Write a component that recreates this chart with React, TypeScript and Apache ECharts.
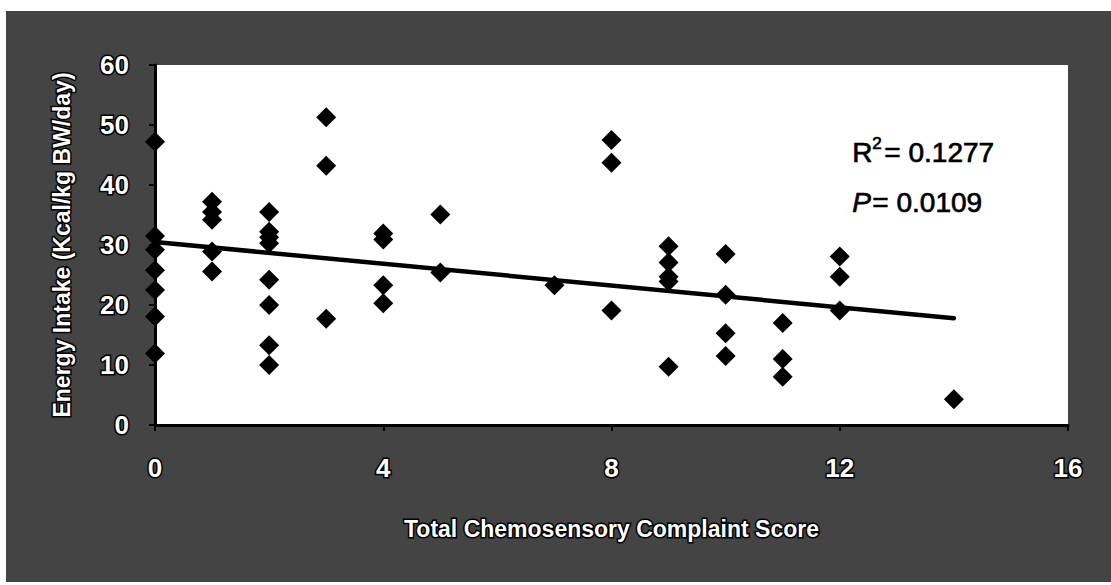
import React, { useEffect, useRef } from "react";
import * as echarts from "echarts";

const xTicks = [0, 4, 8, 12, 16];
const yTicks = [0, 10, 20, 30, 40, 50, 60];

const pointX = [
  0, 0, 0, 0, 0, 0, 0,
  1, 1, 1, 1, 1,
  2, 2, 2, 2, 2, 2, 2, 2,
  3, 3, 3,
  4, 4, 4, 4,
  5, 5,
  7,
  8, 8, 8,
  9, 9, 9, 9, 9,
  10, 10, 10, 10,
  11, 11, 11,
  12, 12, 12,
  14,
];
const pointY = [
  47.2, 31.5, 29.2, 25.8, 22.5, 18.1, 11.9,
  37.2, 35.5, 34.2, 28.9, 25.6,
  35.5, 32.2, 31.3, 30.3, 24.2, 20.0, 13.3, 10.0,
  51.3, 43.2, 17.7,
  31.9, 30.9, 23.3, 20.3,
  35.1, 25.4,
  23.3,
  47.5, 43.7, 19.1,
  29.8, 27.1, 24.7, 23.9, 9.7,
  28.5, 21.7, 15.3, 11.5,
  17.0, 11.0, 8.05,
  28.1, 24.7, 19.1,
  4.3,
];
const trendX = [0, 14];
const trendY = [30.5, 17.8];

const xTitle = "Total Chemosensory Complaint Score";
const yTitle = "Energy Intake (Kcal/kg BW/day)";
const r2Text = "= 0.1277";
const pText = "= 0.0109";

const FONT = "Liberation Sans, Arial, sans-serif";

const outlined = {
  color: "#ffffff",
  textBorderColor: "#000000",
  textBorderWidth: 3,
  fontFamily: FONT,
  fontWeight: "bold" as const,
};

const statStyle = { fontFamily: FONT, fill: "#000", stroke: "#000", lineWidth: 0.7 };

export default function App() {
  const ref = useRef<HTMLDivElement>(null);
  useEffect(() => {
    if (!ref.current) return;
    const chart = echarts.init(ref.current, null, { renderer: "svg" });
    const points = pointX.map((x, i) => [x, pointY[i]]);
    const trend = trendX.map((x, i) => [x, trendY[i]]);
    chart.setOption({
      animation: false,
      backgroundColor: "transparent",
      grid: {
        left: 155,
        right: 43,
        top: 65,
        bottom: 160,
        show: true,
        backgroundColor: "#ffffff",
        borderWidth: 0,
      },
      xAxis: {
        type: "value",
        min: xTicks[0],
        max: xTicks[xTicks.length - 1],
        interval: 4,
        name: xTitle,
        nameLocation: "middle",
        nameGap: 92,
        nameTextStyle: { ...outlined, fontSize: 23 },
        axisLine: { show: true, onZero: false, lineStyle: { color: "#000", width: 3 } },
        axisTick: { show: true, length: 6, lineStyle: { color: "#000", width: 2 } },
        axisLabel: { ...outlined, fontSize: 26, margin: 30 },
        splitLine: { show: false },
      },
      yAxis: {
        type: "value",
        min: yTicks[0],
        max: yTicks[yTicks.length - 1],
        interval: 10,
        name: yTitle,
        nameLocation: "middle",
        nameGap: 82,
        nameTextStyle: { ...outlined, fontSize: 23 },
        axisLine: { show: true, onZero: false, lineStyle: { color: "#000", width: 3 } },
        axisTick: { show: true, length: 6, lineStyle: { color: "#000", width: 2 } },
        axisLabel: { ...outlined, fontSize: 26, margin: 26 },
        splitLine: { show: false },
      },
      series: [
        {
          type: "line",
          data: trend,
          symbol: "none",
          lineStyle: { color: "#000", width: 4.5, cap: "round" },
          z: 2,
        },
        {
          type: "scatter",
          data: points,
          symbol: "diamond",
          symbolSize: 20,
          itemStyle: { color: "#000", opacity: 1 },
          z: 3,
        },
      ],
      graphic: [
        {
          type: "text",
          left: 852,
          top: 138,
          style: { ...statStyle, text: "R", fontSize: 28 },
        },
        {
          type: "text",
          left: 872,
          top: 135,
          style: { ...statStyle, text: "2", fontSize: 17 },
        },
        {
          type: "text",
          left: 884,
          top: 138,
          style: { ...statStyle, text: r2Text, fontSize: 28 },
        },
        {
          type: "text",
          left: 852,
          top: 188,
          style: { ...statStyle, text: "P", fontSize: 28, fontStyle: "italic" },
        },
        {
          type: "text",
          left: 872,
          top: 188,
          style: { ...statStyle, text: pText, fontSize: 28 },
        },
      ],
    });
    return () => chart.dispose();
  }, []);
  return (
    <div style={{ position: "absolute", left: 0, top: 0, width: 1111, height: 585, background: "#ffffff" }}>
      <div style={{ position: "absolute", left: 6, top: 11, width: 1105, height: 571, background: "#444444" }} />
      <div ref={ref} style={{ position: "absolute", left: 0, top: 0, width: 1111, height: 585 }} />
    </div>
  );
}
